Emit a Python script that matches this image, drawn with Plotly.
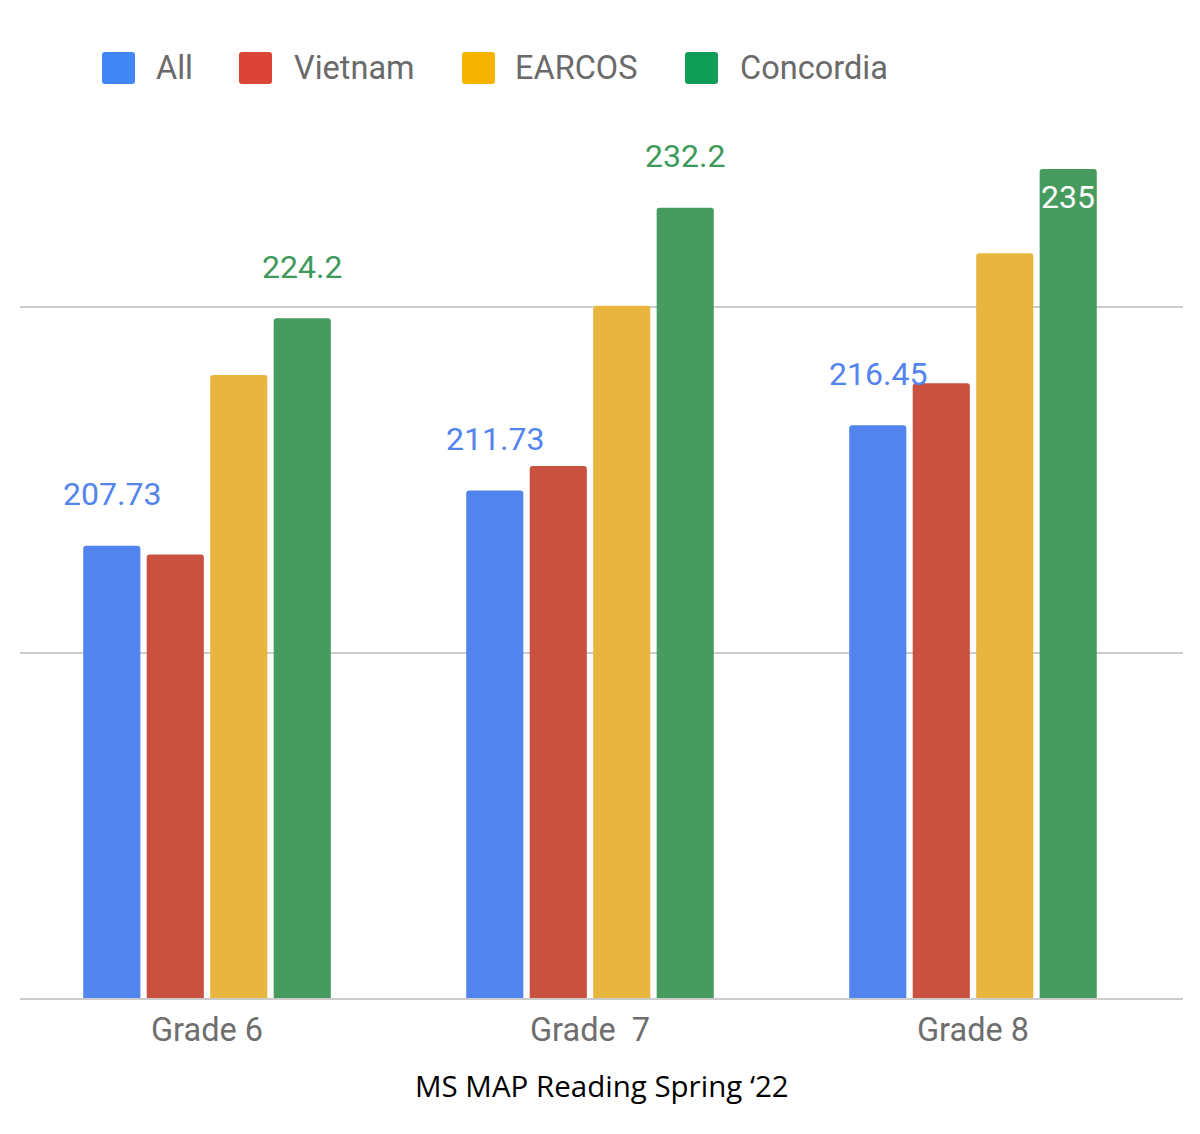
import plotly.graph_objects as go

# ---------------- data ----------------
grades = ["Grade 6", "Grade \u00a07", "Grade 8"]
series_names = ["All", "Vietnam", "EARCOS", "Concordia"]
all_vals = [207.73, 211.73, 216.45]
vietnam_vals = [207.1, 213.5, 219.5]
earcos_vals = [220.1, 225.1, 228.9]
concordia_vals = [224.2, 232.2, 235.0]
labelled_series = ["All", "Concordia"]
x_title = "MS MAP Reading Spring \u201822"

# ---------------- style ----------------
bar_colors = ["#5184EC", "#CA503F", "#E8B63E", "#479B5F"]
legend_colors = ["#4285F4", "#DB4437", "#F4B400", "#0F9D58"]
label_colors = {"All": "#5384EE", "Concordia": "#3E9A5A"}

W, H = 1200, 1134
ML, MR, MT, MB = 20, 17, 100, 136
PW, PH = W - ML - MR, H - MT - MB
YMIN, YMAX = 175, 240
BARGAP, BARGROUPGAP = 0.337, 0.1
X_RANGE = [-0.4883, 2.5483]
FONT = "Roboto"

values = [all_vals, vietnam_vals, earcos_vals, concordia_vals]

fig = go.Figure()
for name, vals, col in zip(series_names, values, bar_colors):
    fig.add_trace(go.Bar(x=grades, y=vals, name=name, marker_color=col,
                         marker_line_width=0, showlegend=False))


def px_x(px):
    return (px - ML) / PW


def px_y(py):
    return (H - MB - py) / PH


def rounded_rect(x0, y0, x1, y1, r):
    return (f"M {px_x(x0 + r)},{px_y(y0)} L {px_x(x1 - r)},{px_y(y0)} "
            f"Q {px_x(x1)},{px_y(y0)} {px_x(x1)},{px_y(y0 + r)} "
            f"L {px_x(x1)},{px_y(y1 - r)} Q {px_x(x1)},{px_y(y1)} {px_x(x1 - r)},{px_y(y1)} "
            f"L {px_x(x0 + r)},{px_y(y1)} Q {px_x(x0)},{px_y(y1)} {px_x(x0)},{px_y(y1 - r)} "
            f"L {px_x(x0)},{px_y(y0 + r)} Q {px_x(x0)},{px_y(y0)} {px_x(x0 + r)},{px_y(y0)} Z")


# ---------------- legend (drawn) ----------------
legend_square_x = [102, 239, 462, 685]
legend_text_x = [155, 293, 514, 739]
legend_y0, legend_y1 = 52, 84
shapes = []
annotations = []
for name, col, sx, tx in zip(series_names, legend_colors, legend_square_x, legend_text_x):
    shapes.append(dict(type="path", xref="paper", yref="paper",
                       path=rounded_rect(sx, legend_y0, sx + 33, legend_y1, 3),
                       fillcolor=col, line_width=0, layer="above"))
    annotations.append(dict(xref="paper", yref="paper", x=px_x(tx), y=px_y(68.5),
                            xanchor="left", yanchor="middle", text=name, showarrow=False,
                            borderpad=0, font=dict(family=FONT, size=32.5, color="#6A6A6A")))

# ---------------- data labels ----------------
n = len(series_names)
slot = (1 - BARGAP) / n
label_room = 80 * (YMAX - YMIN) / PH
for k, (name, vals) in enumerate(zip(series_names, values)):
    if name not in labelled_series:
        continue
    for i, v in enumerate(vals):
        xpos = i + (k - (n - 1) / 2) * slot
        txt = f"{v:g}"
        if v + label_room > YMAX:
            annotations.append(dict(xref="x", yref="y", x=xpos, y=v, yanchor="middle",
                                    yshift=-28, text=txt, showarrow=False, borderpad=0,
                                    font=dict(family=FONT, size=32, color="white")))
        else:
            annotations.append(dict(xref="x", yref="y", x=xpos, y=v, yanchor="middle",
                                    yshift=51.5, text=txt, showarrow=False, borderpad=0,
                                    font=dict(family=FONT, size=32, color=label_colors[name])))

# ---------------- axis title ----------------
annotations.append(dict(xref="paper", yref="paper", x=0.5, y=px_y(1085.6),
                        xanchor="center", yanchor="middle", text=x_title, showarrow=False,
                        borderpad=0, font=dict(family="Open Sans", size=29.5, color="black")))

fig.update_layout(
    width=W, height=H,
    margin=dict(l=ML, r=MR, t=MT, b=MB, autoexpand=False),
    paper_bgcolor="white", plot_bgcolor="white",
    barmode="group", bargap=BARGAP, bargroupgap=BARGROUPGAP, barcornerradius=3,
    showlegend=False,
    font=dict(family=FONT),
    shapes=shapes, annotations=annotations,
    xaxis=dict(type="category", range=X_RANGE, showgrid=False, showline=True,
               linecolor="#CCCCCC", linewidth=2, ticks="", ticklabelstandoff=2,
               tickfont=dict(family=FONT, size=32.5, color="#6E6E6E"), fixedrange=True),
    yaxis=dict(range=[YMIN, YMAX], tickvals=[200, 225], showticklabels=False,
               gridcolor="#CCCCCC", gridwidth=2, zeroline=False, showline=False,
               ticks="", fixedrange=True),
)

fig.write_html("out.html")
